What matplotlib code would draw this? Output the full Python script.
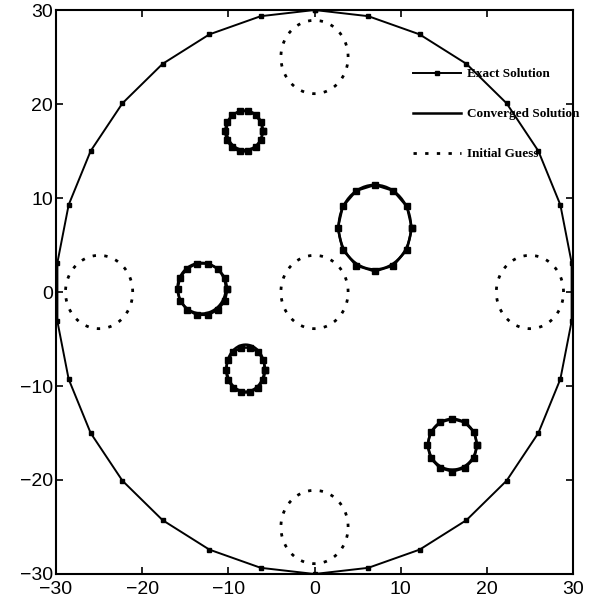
"""
Inclusions reconstruites : solution exacte, solution convergée, estimations initiales.
"""
import matplotlib.pyplot as plt
import numpy as np

# Domaine circulaire
domain_radius = 30
domain_nodes = 30

# Inclusions exactes (centre x, centre y, demi-axe x, demi-axe y, nb de noeuds)
exact_cx = [-8.2, 7.0, -13.0, -8.0, 16.0]
exact_cy = [17.1, 6.8, 0.3, -8.3, -16.3]
exact_ax = [2.2, 4.3, 2.9, 2.3, 2.9]
exact_ay = [2.2, 4.6, 2.8, 2.45, 2.8]
exact_n = [14, 12, 14, 14, 12]

# Solution convergée
conv_cx = [-8.1, 7.0, -13.1, -8.0, 16.0]
conv_cy = [17.2, 6.9, 0.4, -8.1, -16.2]
conv_ax = [2.1, 4.2, 2.8, 2.2, 2.8]
conv_ay = [2.1, 4.5, 2.7, 2.5, 2.7]

# Estimations initiales
guess_cx = [0, 0, 25, -25, 0]
guess_cy = [25, 0, 0, 0, -25]
guess_r = [3.9, 3.9, 3.9, 3.9, 3.9]


def contour(cx, cy, ax_, ay_, n, start=0.0):
    """Points d'un contour elliptique fermé à n noeuds."""
    t = start + np.linspace(0, 2 * np.pi, n + 1)
    return cx + ax_ * np.cos(t), cy + ay_ * np.sin(t)


plt.rcParams['font.family'] = ['Liberation Sans', 'DejaVu Sans']

fig = plt.figure(figsize=(5.99, 6.03), dpi=100)
ax = fig.add_axes([0.0935, 0.0481, 0.8631, 0.9353])

# Frontière du domaine (un noeud au sommet)
x, y = contour(0, 0, domain_radius, domain_radius, domain_nodes, np.pi / 2)
ax.plot(x, y, "k-", lw=1.4, marker="s", ms=3.5, label="Exact Solution")

# Inclusions
for i in range(len(exact_cx)):
    x, y = contour(exact_cx[i], exact_cy[i], exact_ax[i], exact_ay[i], exact_n[i])
    ax.plot(x, y, "k-", lw=1.8, marker="s", ms=4.5)
    x, y = contour(conv_cx[i], conv_cy[i], conv_ax[i], conv_ay[i], 60)
    ax.plot(x, y, "k-", lw=1.8,
            label="Converged Solution" if i == 0 else None)
    x, y = contour(guess_cx[i], guess_cy[i], guess_r[i], guess_r[i], 120)
    ax.plot(x, y, color="k", lw=2, ls=(0, (1.2, 3)),
            label="Initial Guess" if i == 0 else None)

ax.set_xlim(-30, 30)
ax.set_ylim(-30, 30)
ax.set_xticks(np.arange(-30, 31, 10))
ax.set_yticks(np.arange(-30, 31, 10))
ax.tick_params(direction="in", top=True, right=True, length=5, width=1.2,
               labelsize=14, pad=2)
ax.tick_params(axis="x", pad=5)
for s in ax.spines.values():
    s.set_linewidth(1.5)

leg = ax.legend(loc="upper left", bbox_to_anchor=(0.668, 0.918), frameon=False,
                numpoints=1, handlelength=3.6, handletextpad=0.5,
                labelspacing=2.1,
                prop={"family": "Liberation Serif", "weight": "bold", "size": 9.5})

fig.savefig("out.png", dpi=100)
